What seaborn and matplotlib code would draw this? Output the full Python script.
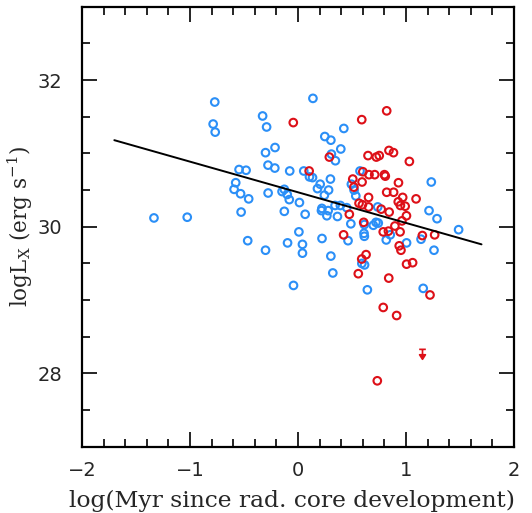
import numpy as np
import pandas as pd
import matplotlib
matplotlib.use("Agg")
import matplotlib.pyplot as plt
from matplotlib.path import Path
import seaborn as sns

# ---- data ----
blue_x = [-1.333, -1.025, -0.770, -0.785, -0.766, -0.327, -0.290, 0.139, -0.212, -0.300,
          -0.277, -0.214, -0.545, -0.480, -0.076, 0.054, 0.107, 0.135, -0.576, -0.591,
          -0.531, -0.456, -0.276, -0.147, -0.126, -0.099, -0.080, 0.014, 0.181, 0.206,
          -0.526, -0.126, 0.067, 0.009, -0.465, -0.300, -0.096, 0.042, 0.042, 0.223,
          -0.041, 0.425, 0.249, 0.305, 0.397, 0.310, 0.347, 0.301, 0.284, 0.245,
          0.222, 0.218, 0.280, 0.344, 0.393, 0.452, 0.268, 0.366, 0.490, 0.575,
          0.495, 0.520, 0.536, 0.739, 0.698, 0.723, 0.744, 0.615, 0.612, 0.615,
          0.464, 0.305, 0.323, 0.592, 0.617, 0.818, 0.855, 1.006, 1.140, 1.214,
          1.288, 1.235, 1.260, 1.488, 0.643, 1.160]
blue_y = [30.12, 30.13, 31.70, 31.40, 31.29, 31.51, 31.36, 31.75, 31.08, 31.01,
          30.84, 30.80, 30.78, 30.77, 30.76, 30.76, 30.68, 30.67, 30.60, 30.51,
          30.45, 30.38, 30.46, 30.48, 30.51, 30.44, 30.37, 30.33, 30.52, 30.58,
          30.20, 30.21, 30.17, 29.93, 29.81, 29.68, 29.78, 29.76, 29.64, 29.84,
          29.20, 31.34, 31.23, 31.18, 31.06, 30.99, 30.90, 30.65, 30.50, 30.43,
          30.25, 30.22, 30.22, 30.29, 30.29, 30.26, 30.15, 30.14, 30.04, 30.76,
          30.58, 30.50, 30.42, 30.27, 30.02, 30.06, 30.05, 30.03, 29.91, 29.87,
          29.81, 29.60, 29.37, 29.50, 29.48, 29.82, 29.89, 29.78, 29.83, 30.22,
          30.11, 30.61, 29.68, 29.96, 29.14, 29.16]

red_x = [-0.043, 0.104, 0.291, 0.822, 0.591, 0.649, 0.726, 0.753, 0.843, 0.885,
         1.032, 0.601, 0.658, 0.711, 0.801, 0.809, 0.594, 0.508, 0.518, 0.931,
         0.822, 0.886, 0.654, 0.970, 1.094, 0.929, 0.949, 0.993, 0.566, 0.597,
         0.654, 0.771, 0.845, 1.005, 0.963, 0.476, 0.898, 0.609, 0.790, 0.838,
         0.946, 0.423, 1.152, 1.266, 0.938, 0.954, 0.631, 0.591, 1.006, 1.062,
         0.559, 0.841, 0.790, 0.914, 1.223, 0.735]
red_y = [31.42, 30.76, 30.95, 31.58, 31.46, 30.97, 30.95, 30.97, 31.04, 31.01,
         30.89, 30.75, 30.71, 30.71, 30.71, 30.69, 30.61, 30.65, 30.54, 30.60,
         30.47, 30.47, 30.40, 30.40, 30.38, 30.34, 30.29, 30.28, 30.32, 30.30,
         30.27, 30.24, 30.20, 30.15, 30.08, 30.17, 30.01, 30.06, 29.93, 29.94,
         29.93, 29.89, 29.88, 29.89, 29.74, 29.68, 29.62, 29.56, 29.49, 29.51,
         29.36, 29.30, 28.90, 28.79, 29.07, 27.90]

# upper limit (red)
ul_x = [1.145]
ul_y = [28.28]

# fitted relation
fit_x = [-1.70, 1.70]
fit_y = [31.18, 29.76]

x_ticks = [-2, -1, 0, 1, 2]
x_ticklabels = ["\u22122", "\u22121", "0", "1", "2"]
y_ticks = [28, 30, 32]

BLUE = "#2b8ff7"
RED = "#dd1018"

df = pd.DataFrame({
    "x": blue_x + red_x,
    "y": blue_y + red_y,
    "grp": ["blue"] * len(blue_x) + ["red"] * len(red_x),
})

sns.set_style("ticks")
plt.rcParams["font.family"] = ["DejaVu Serif"]
plt.rcParams["mathtext.fontset"] = "dejavuserif"

fig = plt.figure(figsize=(5.32, 5.13), dpi=100)
ax = fig.add_axes([0.154, 0.129, 0.812, 0.858])

sns.scatterplot(data=df, x="x", y="y", hue="grp",
                palette={"blue": BLUE, "red": RED},
                marker="o", s=30, facecolors="none", linewidth=1.5,
                legend=False, ax=ax)
coll = ax.collections[0]
cols = [BLUE if g == "blue" else RED for g in df["grp"]]
coll.set_edgecolors(cols)
coll.set_facecolors("none")

sns.lineplot(x=fit_x, y=fit_y, color="black", linewidth=1.4, ax=ax)

# upper-limit marker: bar, stem and downward arrowhead
verts = [(-0.4, 0.5), (0.4, 0.5), (0.0, 0.5), (0.0, -0.2),
         (-0.35, -0.15), (0.35, -0.15), (0.0, -0.7), (-0.35, -0.15)]
codes = [Path.MOVETO, Path.LINETO, Path.MOVETO, Path.LINETO,
         Path.MOVETO, Path.LINETO, Path.LINETO, Path.CLOSEPOLY]
ul_marker = Path(verts, codes)
ax.scatter(ul_x, ul_y, marker=ul_marker, s=70, facecolors=RED,
           edgecolors=RED, linewidths=1.2)

ax.set_xlim(-2, 2)
ax.set_ylim(27, 33)
ax.set_xticks(x_ticks)
ax.set_yticks(y_ticks)
ax.set_xticklabels(x_ticklabels)
ax.xaxis.set_minor_locator(matplotlib.ticker.MultipleLocator(0.2))
ax.yaxis.set_minor_locator(matplotlib.ticker.MultipleLocator(0.5))
ax.tick_params(which="both", direction="in", top=True, right=True,
               color="black", width=1.2)
ax.tick_params(which="major", length=11)
ax.tick_params(which="minor", length=5.5)
ax.tick_params(axis="x", which="major", pad=10, labelsize=14)
ax.tick_params(axis="y", which="major", pad=14, labelsize=14)
for lab in ax.get_xticklabels() + ax.get_yticklabels():
    lab.set_family("DejaVu Sans")
for sp in ax.spines.values():
    sp.set_visible(True)
    sp.set_linewidth(1.6)
    sp.set_color("black")

ax.set_xlabel("log(Myr since rad. core development)", fontsize=16.8)
ax.xaxis.set_label_coords(0.487, -0.098)
ax.set_ylabel(r"logL$_{\rm X}$ (erg s$^{-1}$)", fontsize=15.5)
ax.yaxis.set_label_coords(-0.108, 0.5)

fig.savefig("out.png", dpi=100)
